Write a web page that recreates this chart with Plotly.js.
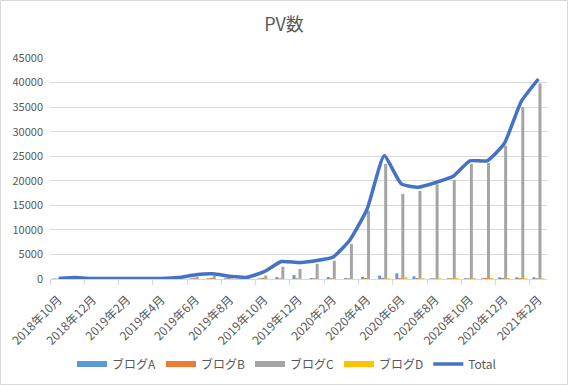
<!DOCTYPE html>
<html>
<head>
<meta charset="utf-8">
<script src="https://cdn.plot.ly/plotly-3.0.1.min.js"></script>
<style>
  html, body { margin: 0; padding: 0; background: #ffffff; }
  #chart { width: 568px; height: 385px; }
</style>
</head>
<body>
<div id="chart"></div>
<script>
const months = ['2018年10月','2018年11月','2018年12月','2019年1月','2019年2月','2019年3月','2019年4月','2019年5月','2019年6月','2019年7月','2019年8月','2019年9月','2019年10月','2019年11月','2019年12月','2020年1月','2020年2月','2020年3月','2020年4月','2020年5月','2020年6月','2020年7月','2020年8月','2020年9月','2020年10月','2020年11月','2020年12月','2021年1月','2021年2月'];
const blogA = [100,30,20,20,20,20,20,50,150,150,150,50,150,400,800,200,400,200,400,700,1150,550,150,150,150,150,350,350,350];
const blogB = [50,30,20,20,20,20,20,50,250,250,200,100,250,150,150,150,150,150,200,250,200,200,150,150,150,200,200,200,150];
const blogC = [0,150,50,30,50,50,50,200,450,650,150,150,700,2510,2050,3080,3730,7140,13870,23450,17330,17940,19310,20190,23450,23650,27120,35010,39830];
const blogD = [0,0,0,0,0,0,0,0,0,0,0,0,0,0,0,0,0,0,0,150,350,150,150,200,200,200,200,150,150];
const total = [100,280,100,80,100,100,100,300,850,1050,550,350,1500,3550,3350,3730,4420,7950,14210,25080,19370,18690,19640,20860,24060,24060,27530,36160,40720];
const seriesNames = ['ブログA','ブログB','ブログC','ブログD','Total'];

const colors = ['#5B9BD5','#ED7D31','#A5A5A5','#FFC000','#4472C4'];
const barSeries = [blogA, blogB, blogC, blogD];

const traces = [];
barSeries.forEach((vals, i) => {
  traces.push({
    type: 'bar', x: months, y: vals, name: seriesNames[i],
    legendgroup: 'g' + i, showlegend: false,
    marker: { color: colors[i] }
  });
});
// legend entries drawn as wide swatches (Excel style), linked to the bar traces
barSeries.forEach((vals, i) => {
  traces.push({
    type: 'scatter', mode: 'lines', x: [null], y: [null], name: seriesNames[i],
    legendgroup: 'g' + i, showlegend: true,
    line: { color: colors[i], width: 6 }
  });
});
traces.push({
  type: 'scatter', mode: 'lines', x: months, y: total, name: seriesNames[4],
  line: { color: colors[4], width: 3.5, shape: 'spline', smoothing: 0.45 }
});

const L = 50, R = 21, T = 58, B = 106, W = 568, H = 385;
const pw = W - L - R, ph = H - T - B;
const font = '"Noto Sans CJK JP", "Noto Sans", sans-serif';
const grey = '#595959';

const layout = {
  width: W, height: H,
  margin: { l: L, r: R, t: T, b: B, pad: 0, autoexpand: false },
  paper_bgcolor: '#ffffff', plot_bgcolor: '#ffffff',
  font: { family: font, color: grey, size: 11 },
  title: { text: 'PV数', font: { family: font, size: 18, color: grey }, x: 0.5, xanchor: 'center', y: 1 - 25 / H, yanchor: 'middle', yref: 'container' },
  barmode: 'group', bargap: 0.3, bargroupgap: 0,
  xaxis: {
    type: 'category', range: [-0.5, months.length - 0.5],
    tickmode: 'linear', dtick: 2, tick0: 0,
    tickangle: -45, tickson: 'boundaries',
    ticks: 'outside', ticklen: 5, tickcolor: '#d9d9d9', tickwidth: 1,
    showline: true, linecolor: '#d9d9d9', linewidth: 1,
    showgrid: false, zeroline: false, automargin: false,
    ticklabelstandoff: 8,
    tickfont: { family: font, size: 12, color: grey }
  },
  yaxis: {
    range: [0, 45000], tickmode: 'linear', dtick: 5000, tick0: 0,
    tickformat: 'd', automargin: false,
    showgrid: true, gridcolor: '#d9d9d9', gridwidth: 1,
    zeroline: false, showline: false, ticks: '',
    ticklabelstandoff: 6,
    tickfont: { family: font, size: 11, color: grey }
  },
  legend: {
    orientation: 'h', x: (287 - L) / pw, xanchor: 'center',
    yref: 'container', y: 1 - 364 / H, yanchor: 'middle',
    font: { family: font, size: 12, color: grey },
    itemwidth: 30, traceorder: 'normal'
  },
  shapes: [{
    type: 'rect', xref: 'paper', yref: 'paper',
    x0: (0.5 - L) / pw, x1: (W - 0.5 - L) / pw,
    y0: -(B - 0.5) / ph, y1: 1 + (T - 0.5) / ph,
    line: { color: '#d9d9d9', width: 1 }, fillcolor: 'rgba(0,0,0,0)', layer: 'below'
  }],
  showlegend: true
};

Plotly.newPlot('chart', traces, layout, { staticPlot: true, displayModeBar: false });
</script>
</body>
</html>
